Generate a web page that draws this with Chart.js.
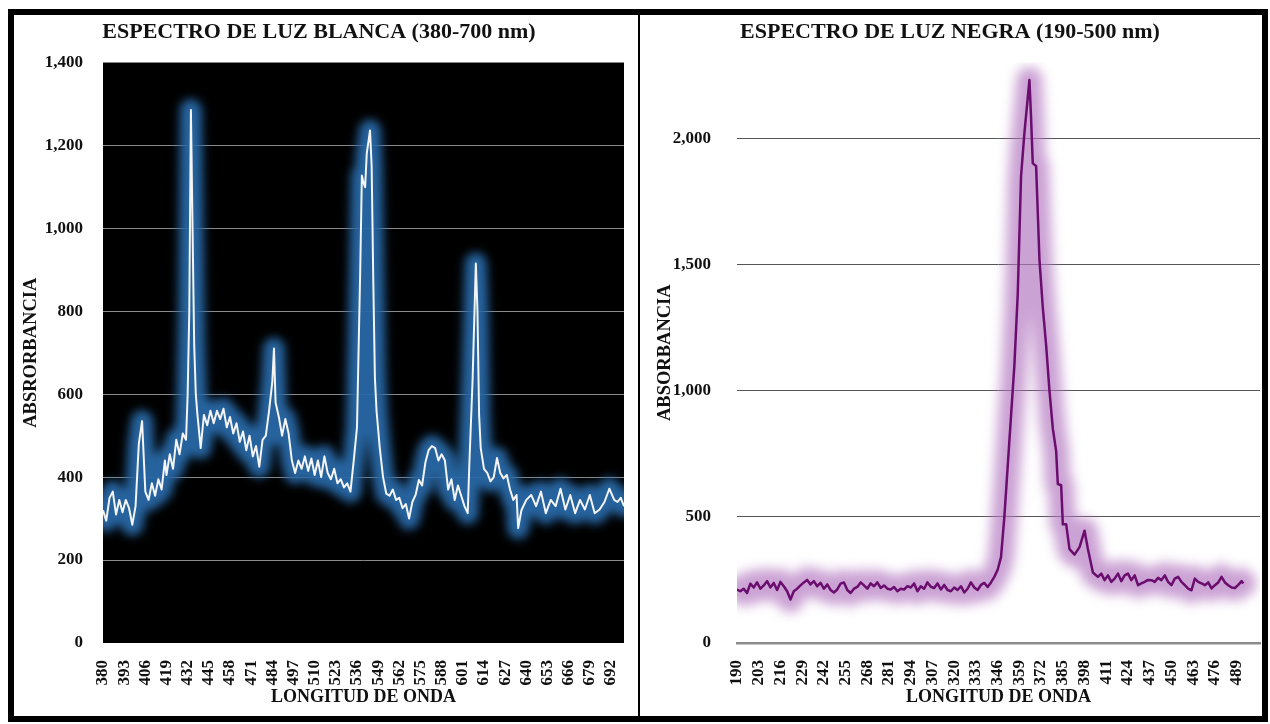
<!DOCTYPE html>
<html>
<head>
<meta charset="utf-8">
<script src="https://cdn.jsdelivr.net/npm/chart.js@4.4.1/dist/chart.umd.min.js"></script>
<style>
    body { margin: 0; background: #fff; width: 1270px; height: 724px; position: relative; overflow: hidden; }
    #frame { position: absolute; left: 8px; top: 9px; width: 1248px; height: 701px; border: 6px solid #000; }
    #divider { position: absolute; left: 624px; top: 0; width: 2px; height: 701px; background: #000; }
    #whiteChart { position: absolute; left: 0; top: 0; }
    #blackChart { position: absolute; left: 626px; top: 0; }
</style>
</head>
<body>
<div id="frame">
    <canvas id="whiteChart" width="624" height="701"></canvas>
    <div id="divider"></div>
    <canvas id="blackChart" width="622" height="701"></canvas>
</div>
<script>
// --- espectro de luz blanca ---
const whiteNm = [380,382,384,386,388,390,392,394,396,398,400,402,404,406,408,410,412,414,416,418,
    419,421,423,425,427,429,431,432,433,434,435,436,437,438,440,442,444,446,448,450,
    452,454,456,458,460,462,464,466,468,470,472,474,476,478,480,482,484,485,486,488,
    490,492,494,496,498,500,502,504,506,508,510,512,514,516,518,520,522,524,526,528,
    530,532,534,536,538,539,540,541,542,544,545,546,547,548,550,552,554,556,558,560,
    562,564,566,568,570,572,574,576,578,580,582,584,586,588,590,592,594,596,598,600,
    602,604,605,607,609,610,611,612,614,616,618,620,622,624,626,628,630,632,634,635,
    637,640,643,646,649,652,655,658,661,664,667,670,673,676,679,682,685,688,691,694,
    696,698,700];
const whiteAbs = [320,295,350,365,310,345,315,345,325,285,330,480,535,365,345,385,355,395,370,440,
    405,455,420,490,455,505,490,600,800,1285,1000,720,600,550,470,550,525,560,530,560,
    540,565,520,545,505,530,485,510,465,500,450,475,425,490,500,560,630,710,580,545,
    500,540,505,440,410,440,420,450,415,445,405,440,400,450,410,395,420,385,395,375,
    385,365,440,520,900,1127,1110,1099,1180,1236,1150,875,640,560,470,400,360,355,370,345,
    350,325,335,300,340,357,393,380,435,465,475,470,440,455,440,370,395,345,380,355,
    330,313,430,634,915,800,550,470,420,410,390,400,446,410,397,405,370,345,357,277,
    320,345,357,330,365,313,345,330,372,322,357,313,345,322,357,313,322,340,372,345,
    340,350,330];
const whiteXTicks = [380,393,406,419,432,445,458,471,484,497,510,523,536,549,562,575,588,601,614,627,640,653,666,679,692];
const whiteYTicks = [0,200,400,600,800,1000,1200,1400];

// --- espectro de luz negra ---
const blackNm = [190,192,194,196,198,200,202,204,206,208,210,212,214,216,218,220,222,224,226,228,
    230,232,234,236,238,240,242,244,246,248,250,252,254,256,258,260,262,264,266,268,
    270,272,274,276,278,280,282,284,286,288,290,292,294,296,298,300,302,304,306,308,
    310,312,314,316,318,320,322,324,326,328,330,332,334,336,338,340,
    342,344,346,348,350,352,354,356,358,360,362,365,366,367,369,371,373,375,377,379,
    381,382,384,385,387,389,392,395,398,400,403,
    406,408,410,412,414,416,418,420,422,424,426,428,430,432,434,436,438,440,442,444,
    446,448,450,452,454,456,458,460,462,464,466,468,470,472,474,476,478,480,482,484,
    486,488,490,492,493];
const blackAbs = [212,205,215,198,235,220,240,215,228,245,220,238,210,242,225,205,172,205,215,228,
    240,250,232,245,225,238,215,232,210,200,212,235,240,210,198,215,222,240,228,215,
    236,225,240,218,228,215,212,222,205,215,212,225,220,236,205,225,215,240,223,218,
    236,212,230,210,205,220,210,225,200,215,240,220,210,230,238,222,
    240,262,290,340,500,700,900,1100,1380,1850,2020,2230,2080,1900,1890,1520,1330,1180,1000,850,
    760,630,625,470,470,372,350,380,445,372,279,
    262,275,249,268,242,255,275,245,268,275,249,268,229,236,242,250,249,242,258,249,
    268,242,229,255,262,242,229,215,209,255,242,236,229,240,216,229,240,262,240,229,
    220,218,230,245,236];
const blackXTicks = [190,203,216,229,242,255,268,281,294,307,320,333,346,359,372,385,398,411,424,437,450,463,476,489];
const blackYTicks = [0,500,1000,1500,2000];

const SERIF = "'Liberation Serif', 'Times New Roman', serif";
const INK = '#111';

// glow + plot background
const glowPlugin = {
    id: 'glow',
    beforeDraw(chart, args, opts) {
        if (!opts.plotBg) return;
        const { ctx, chartArea: a } = chart;
        ctx.save();
        ctx.fillStyle = opts.plotBg;
        ctx.fillRect(a.left, a.top, a.right - a.left, a.bottom - a.top);
        ctx.restore();
    },
    beforeDatasetDraw(chart, args, opts) {
        if (args.index !== 1) return;
        chart.ctx.save();
        chart.ctx.filter = 'blur(' + opts.blur + 'px)';
    },
    afterDatasetDraw(chart, args) {
        if (args.index === 1) chart.ctx.restore();
    }
};

function buildChart(canvasId, p) {
    const points = p.nm.map((x, i) => ({ x: x, y: p.values[i] }));

    return new Chart(document.getElementById(canvasId), {
        type: 'line',
        data: {
            datasets: [
                {
                    data: points,
                    borderColor: p.lineColor,
                    borderWidth: p.lineWidth,
                    pointRadius: 0,
                    tension: 0,
                    borderJoinStyle: 'round'
                },
                {
                    data: points,
                    borderColor: p.glowColor,
                    borderWidth: p.glowWidth,
                    pointRadius: 0,
                    tension: 0,
                    borderJoinStyle: 'round',
                    borderCapStyle: 'round'
                }
            ]
        },
        options: {
            responsive: false,
            animation: false,
            devicePixelRatio: 1,
            layout: { padding: { left: 0, right: p.padRight, top: 0, bottom: 0 } },
            plugins: {
                legend: { display: false },
                tooltip: { enabled: false },
                title: {
                    display: true,
                    text: p.title,
                    color: INK,
                    font: { family: SERIF, size: 22, weight: 'bold' },
                    padding: { top: 4, bottom: 17 }
                },
                glow: { blur: p.glowBlur, plotBg: p.plotBg }
            },
            scales: {
                x: {
                    type: 'linear',
                    min: p.xMin,
                    max: p.xMax,
                    afterBuildTicks: s => { s.ticks = p.xTicks.map(v => ({ value: v })); },
                    afterFit: s => {
                        s.height = 73;
                        s.paddingLeft = 0;
                        s.paddingRight = 0;
                    },
                    grid: { display: false },
                    border: { display: p.xBorder > 0, color: '#8c8c8c', width: p.xBorder },
                    ticks: {
                        autoSkip: false,
                        maxRotation: 90,
                        minRotation: 90,
                        padding: 9,
                        color: INK,
                        font: { family: SERIF, size: 17, weight: 'bold' },
                        callback: v => String(v)
                    },
                    title: {
                        display: true,
                        text: 'LONGITUD DE ONDA',
                        color: INK,
                        font: { family: SERIF, size: 18, weight: 'bold' },
                        padding: { top: 0, bottom: 8 }
                    }
                },
                y: {
                    min: 0,
                    max: p.yMax,
                    afterBuildTicks: s => { s.ticks = p.yTicks.map(v => ({ value: v })); },
                    afterFit: s => { s.width = p.yWidth; },
                    grid: {
                        drawTicks: false,
                        lineWidth: 1,
                        color: c => (c.tick && c.tick.value === 0) ? 'rgba(0,0,0,0)' : p.gridColor
                    },
                    border: { display: false },
                    ticks: {
                        padding: p.yPad,
                        color: INK,
                        font: { family: SERIF, size: 17, weight: 'bold' },
                        callback: v => v.toLocaleString('en-US')
                    },
                    title: {
                        display: true,
                        text: p.yTitle,
                        color: INK,
                        font: { family: SERIF, size: 18.5, weight: 'bold' },
                        padding: { top: p.yTitlePad, bottom: 0 }
                    }
                }
            }
        },
        plugins: [glowPlugin]
    });
}

buildChart('whiteChart', {
    nm: whiteNm, values: whiteAbs, xTicks: whiteXTicks, yTicks: whiteYTicks,
    title: 'ESPECTRO DE LUZ BLANCA (380-700 nm)', yTitle: 'ABSRORBANCIA',
    xMin: 380, xMax: 700, yMax: 1400,
    lineColor: '#f4f4f4', lineWidth: 2,
    glowColor: 'rgba(40,104,166,0.95)', glowWidth: 22, glowBlur: 5,
    plotBg: '#000', gridColor: '#8a8a8a', xBorder: 0,
    padRight: 14, yWidth: 89, yPad: 20, yTitlePad: 6
});

buildChart('blackChart', {
    nm: blackNm, values: blackAbs, xTicks: blackXTicks, yTicks: blackYTicks,
    title: 'ESPECTRO DE LUZ NEGRA (190-500 nm)', yTitle: 'ABSORBANCIA',
    xMin: 190, xMax: 503, yMax: 2300,
    lineColor: '#6a0d6e', lineWidth: 2.5,
    glowColor: 'rgba(178,118,192,0.68)', glowWidth: 26, glowBlur: 6,
    plotBg: null, gridColor: '#555', xBorder: 2.5,
    padRight: 2, yWidth: 97, yPad: 26, yTitlePad: 14
});
</script>
</body>
</html>
